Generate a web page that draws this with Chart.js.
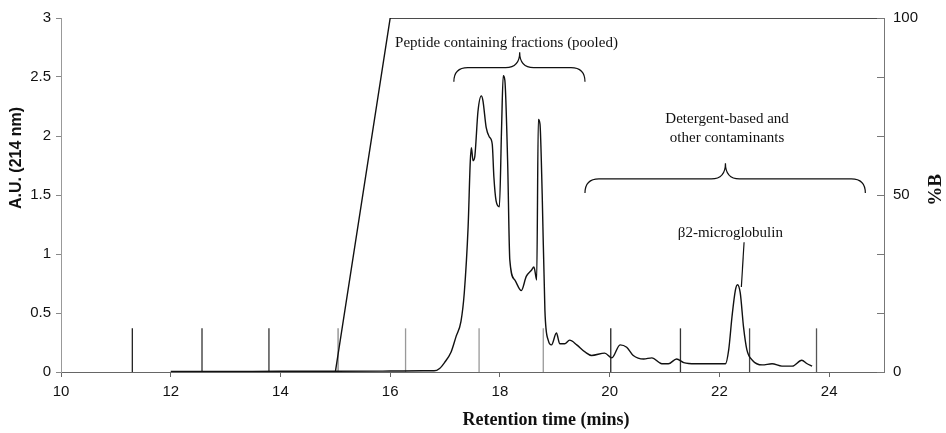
<!DOCTYPE html>
<html>
<head>
<meta charset="utf-8">
<script src="https://cdn.jsdelivr.net/npm/chart.js@4.4.0/dist/chart.umd.min.js"></script>
<style>
  html, body { margin: 0; padding: 0; background: #fff; }
</style>
</head>
<body>
<canvas id="chromChart" width="946" height="433"></canvas>
<script>
// absorbance trace, A.U. (214 nm) vs retention time (mins)
const traceTimes = [12.0, 13.0, 14.0, 15.0, 16.0, 16.6, 16.8, 16.9, 16.99, 17.11, 17.2, 17.29, 17.35, 17.42, 17.46, 17.48, 17.51, 17.54, 17.6, 17.66, 17.69, 17.75, 17.81, 17.86, 17.89, 17.93, 17.99, 18.03, 18.06, 18.09, 18.14, 18.18, 18.27, 18.39, 18.48, 18.57, 18.62, 18.67, 18.7, 18.73, 18.77, 18.82, 18.88, 18.94, 19.03, 19.09, 19.18, 19.27, 19.4, 19.55, 19.67, 19.91, 20.04, 20.19, 20.31, 20.43, 20.62, 20.77, 20.95, 21.07, 21.22, 21.35, 21.56, 21.8, 22.11, 22.17, 22.23, 22.29, 22.33, 22.38, 22.44, 22.5, 22.6, 22.78, 22.96, 23.14, 23.33, 23.5, 23.6, 23.69];
const traceAU = [0.005, 0.005, 0.006, 0.006, 0.008, 0.01, 0.01, 0.03, 0.08, 0.17, 0.3, 0.43, 0.67, 1.23, 1.79, 1.9, 1.79, 1.82, 2.21, 2.34, 2.3, 2.07, 1.99, 1.93, 1.65, 1.45, 1.4, 2.07, 2.51, 2.47, 1.79, 0.95, 0.78, 0.69, 0.81, 0.86, 0.89, 0.78, 2.14, 2.1, 1.51, 0.52, 0.27, 0.23, 0.33, 0.24, 0.24, 0.27, 0.23, 0.17, 0.14, 0.16, 0.12, 0.23, 0.21, 0.14, 0.11, 0.12, 0.07, 0.07, 0.11, 0.08, 0.07, 0.07, 0.07, 0.19, 0.47, 0.69, 0.74, 0.67, 0.38, 0.19, 0.1, 0.06, 0.07, 0.05, 0.05, 0.1, 0.07, 0.05];

// gradient, %B
const gradTimes = [13, 15, 16, 25];
const gradB = [0, 0, 100, 100];

// fraction collector marks
const fractionTimes = [11.3, 12.57, 13.79, 15.05, 16.28, 17.62, 18.79, 20.02, 21.29, 22.55, 23.77];
const fractionColors = ['#222', '#333', '#333', '#888', '#999', '#999', '#999', '#222', '#333', '#444', '#555'];
const fractionHeight = 0.37;

const xTickValues = [10, 12, 14, 16, 18, 20, 22, 24];
const auTickValues = [0, 0.5, 1, 1.5, 2, 2.5, 3];
const bLabelValues = [0, 50, 100];

const tracePoints = traceTimes.map((t, i) => ({ x: t, y: traceAU[i] }));
const gradPoints = gradTimes.map((t, i) => ({ x: t, y: gradB[i] }));
const fractionPoints = [];
fractionTimes.forEach(t => {
  fractionPoints.push({ x: t, y: 0 }, { x: t, y: fractionHeight }, { x: t, y: null });
});

// annotations in data units
const notes = [
  { text: 'Peptide containing fractions (pooled)', x: 18.12, y: 2.79 },
  { text: 'Detergent-based and', x: 22.14, y: 2.145 },
  { text: 'other contaminants', x: 22.14, y: 1.985 },
  { text: '\u03B22-microglobulin', x: 22.2, y: 1.175 }
];
const braces = [
  { x0: 17.16, x1: 19.55, xm: 18.36, yLine: 2.58, yEnd: 2.46, yTip: 2.71 },
  { x0: 19.55, x1: 24.66, xm: 22.11, yLine: 1.637, yEnd: 1.516, yTip: 1.77 }
];
const pointer = { x0: 22.45, y0: 1.1, x1: 22.4, y1: 0.72 };

const extras = {
  id: 'extras',
  afterDatasetsDraw(chart) {
    const { ctx, chartArea, scales } = chart;
    const sx = v => scales.x.getPixelForValue(v);
    const sy = v => scales.y.getPixelForValue(v);
    ctx.save();

    // right axis ticks point inward
    ctx.strokeStyle = '#777';
    ctx.lineWidth = 1;
    scales.y2.ticks.forEach(t => {
      const py = Math.round(scales.y2.getPixelForValue(t.value)) + 0.5;
      ctx.beginPath();
      ctx.moveTo(chartArea.right - 7, py);
      ctx.lineTo(chartArea.right, py);
      ctx.stroke();
    });

    // braces
    ctx.strokeStyle = '#111';
    ctx.lineWidth = 1.2;
    braces.forEach(b => {
      const x0 = sx(b.x0), x1 = sx(b.x1), xm = sx(b.xm);
      const yl = sy(b.yLine), ye = sy(b.yEnd), yt = sy(b.yTip);
      const r = 14;
      ctx.beginPath();
      ctx.moveTo(x0, ye);
      ctx.quadraticCurveTo(x0, yl, x0 + r, yl);
      ctx.lineTo(xm - r, yl);
      ctx.quadraticCurveTo(xm, yl, xm, yt);
      ctx.quadraticCurveTo(xm, yl, xm + r, yl);
      ctx.lineTo(x1 - r, yl);
      ctx.quadraticCurveTo(x1, yl, x1, ye);
      ctx.stroke();
    });

    // pointer to b2m peak
    ctx.beginPath();
    ctx.moveTo(sx(pointer.x0), sy(pointer.y0));
    ctx.lineTo(sx(pointer.x1), sy(pointer.y1));
    ctx.stroke();

    // notes
    ctx.fillStyle = '#111';
    ctx.font = '15px "Liberation Serif", "Times New Roman", serif';
    ctx.textAlign = 'center';
    ctx.textBaseline = 'middle';
    notes.forEach(n => ctx.fillText(n.text, sx(n.x), sy(n.y)));

    // axis titles
    ctx.font = 'bold 18px "Liberation Serif", serif';
    ctx.fillText('Retention time (mins)', chartArea.left + 485, 420);

    ctx.save();
    ctx.translate(17, 158);
    ctx.rotate(-Math.PI / 2);
    ctx.font = 'bold 16px "Liberation Sans", Arial, sans-serif';
    ctx.fillText('A.U. (214 nm)', 0, 0);
    ctx.restore();

    ctx.save();
    ctx.translate(936, 190);
    ctx.rotate(-Math.PI / 2);
    ctx.font = 'bold 19px "Liberation Serif", serif';
    ctx.fillText('%B', 0, 0);
    ctx.restore();

    ctx.restore();
  }
};

const tickFont = { family: '"Liberation Sans", Arial, sans-serif', size: 15 };

new Chart(document.getElementById('chromChart').getContext('2d'), {
  type: 'line',
  data: {
    datasets: [
      {
        label: 'Absorbance',
        data: tracePoints,
        borderColor: '#111',
        borderWidth: 1.4,
        pointRadius: 0,
        cubicInterpolationMode: 'monotone',
        yAxisID: 'y'
      },
      {
        label: '%B',
        data: gradPoints,
        borderColor: '#111',
        borderWidth: 1.4,
        pointRadius: 0,
        tension: 0,
        yAxisID: 'y2'
      },
      {
        label: 'Fractions',
        data: fractionPoints,
        borderColor: '#333',
        segment: {
          borderColor: c => fractionColors[Math.floor(c.p0DataIndex / 3)]
        },
        borderWidth: 1.3,
        pointRadius: 0,
        spanGaps: false,
        yAxisID: 'y'
      }
    ]
  },
  options: {
    responsive: false,
    animation: false,
    layout: { padding: { top: 17, left: 0, right: 0, bottom: 0 } },
    plugins: {
      legend: { display: false },
      tooltip: { enabled: false }
    },
    scales: {
      x: {
        type: 'linear',
        min: 10,
        max: 25,
        afterBuildTicks: s => { s.ticks = xTickValues.map(v => ({ value: v })); },
        afterFit: s => { s.height = 61; },
        grid: { drawOnChartArea: false, tickLength: 5, color: '#666' },
        border: { color: '#666', width: 1 },
        ticks: { color: '#111', font: tickFont, padding: 6, maxRotation: 0, callback: v => String(v) }
      },
      y: {
        position: 'left',
        min: 0,
        max: 3,
        afterBuildTicks: s => { s.ticks = auTickValues.map(v => ({ value: v })); },
        afterFit: s => { s.width = 61; },
        grid: { drawOnChartArea: false, tickLength: 5, color: '#888' },
        border: { color: '#999', width: 1 },
        ticks: { color: '#111', font: tickFont, padding: 5, callback: v => String(v) }
      },
      y2: {
        position: 'right',
        min: 0,
        max: 100,
        afterBuildTicks: s => { s.ticks = [0, 1, 2, 3, 4, 5, 6].map(k => ({ value: k * 100 / 6 })); },
        afterFit: s => { s.width = 62; },
        grid: { drawOnChartArea: false, drawTicks: false },
        border: { color: '#777', width: 1 },
        ticks: {
          color: '#111',
          font: tickFont,
          padding: 9,
          callback: v => {
            const hit = bLabelValues.find(b => Math.abs(b - v) < 0.01);
            return hit === undefined ? '' : String(hit);
          }
        }
      }
    }
  },
  plugins: [extras]
});
</script>
</body>
</html>
